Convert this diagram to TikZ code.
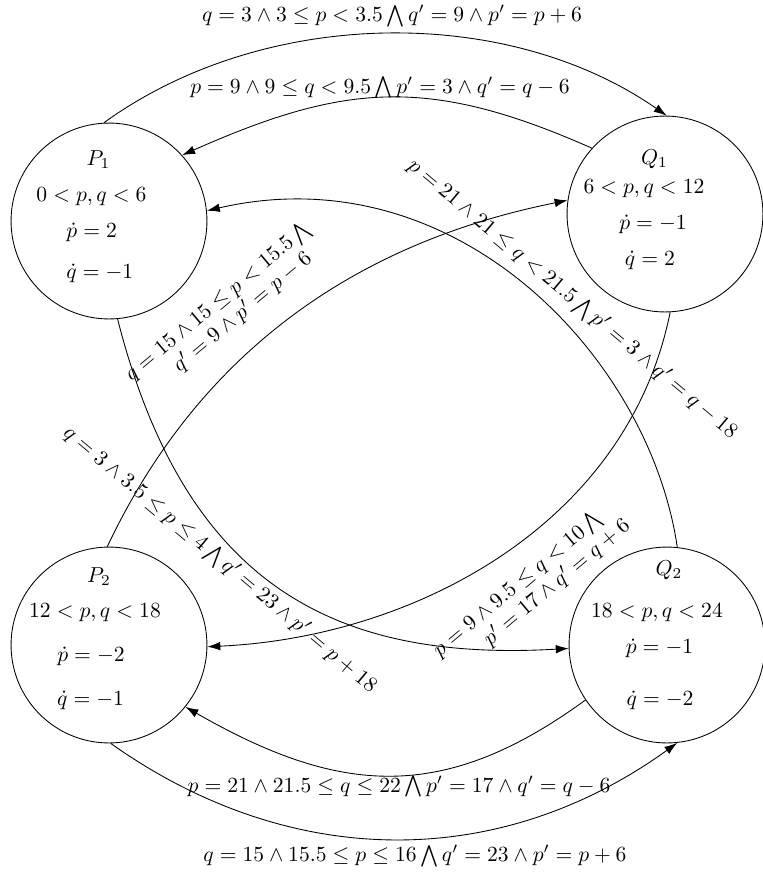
\documentclass[tikz,border=0pt]{standalone}
\usetikzlibrary{arrows.meta}
\begin{document}
\begin{tikzpicture}[x=0.463pt,y=-0.463pt,line width=0.4pt,
  state/.style={circle,draw,minimum size=90.7pt,inner sep=0pt},
  txt/.style={anchor=base,inner sep=0pt},
  lab/.style={inner sep=0pt},
  tr/.style={-{Latex[length=6pt,width=4pt]}}]
\useasboundingbox (0,0) rectangle (762,874);
% states
\node[state] (P1) at (109,221) {};
\node[state] (Q1) at (665,214) {};
\node[state] (P2) at (109,645) {};
\node[state] (Q2) at (667,645) {};
% state texts
\node[txt] (P1a) at (98.5,165) {$P_1$};
\node[txt] (P1b) at (91.5,201) {$0<p,q<6$};
\node[txt,anchor=base west] (P1c) at (66,237) {$\dot p=2$};
\node[txt,anchor=base west] (P1d) at (66,278) {$\dot q=-1$};
\node[txt] (Q1a) at (654.5,164) {$Q_1$};
\node[txt] (Q1b) at (644,193) {$6<p,q<12$};
\node[txt] (Q1c) at (653,229) {$\dot p=-1$};
\node[txt] (Q1d) at (650,265) {$\dot q=2$};
\node[txt] (P2a) at (99,582) {$P_2$};
\node[txt] (P2b) at (95,617) {$12<p,q<18$};
\node[txt] (P2c) at (91,661) {$\dot p=-2$};
\node[txt] (P2d) at (90.5,705) {$\dot q=-1$};
\node[txt] (Q2a) at (669,575) {$Q_2$};
\node[txt] (Q2b) at (657,617) {$18<p,q<24$};
\node[txt] (Q2c) at (659.5,653) {$\dot p=-1$};
\node[txt] (Q2d) at (660,705) {$\dot q=-2$};
% transitions
\draw[tr] (P1.93) .. controls (264,7) and (506,4) .. (Q1.89);
\draw[tr] (Q1.138) .. controls (429,76) and (345,83) .. (P1.42);
\draw[tr] (P1.-85) .. controls (185,584) and (333,662) .. (Q2.182);
\draw[tr] (P2.91) .. controls (205,340) and (370,240) .. (Q1.172);
\draw[tr] (Q2.84) .. controls (649.3,357) and (456,153.3) .. (P1.6);
\draw[tr] (Q1.-87) .. controls (627.5,524.7) and (413.8,637.4) .. (P2.-1);
\draw[tr] (Q2.-146) .. controls (443.6,803.4) and (339.8,795.5) .. (P2.-39);
\draw[tr] (P2.-89) .. controls (289,870) and (498,872) .. (Q2.-84);
% guards
\node[lab,anchor=base] (Ltop) at (392,21.5) {$q=3\wedge 3\leq p<3.5\bigwedge q'=9\wedge p'=p+6$};
\node[lab,anchor=base] (Lsec) at (380,93) {$p=9\wedge 9\leq q<9.5\bigwedge p'=3\wedge q'=q-6$};
\node[lab,anchor=base] (Lbi) at (399,792) {$p=21\wedge 21.5\leq q\leq 22\bigwedge p'=17\wedge q'=q-6$};
\node[lab,anchor=base] (Lbo) at (415,861.7) {$q=15\wedge 15.5\leq p\leq 16\bigwedge q'=23\wedge p'=p+6$};
\node[lab,rotate=-40] (Lc) at (572.5,299) {$p=21\wedge 21\leq q<21.5\bigwedge p'=3\wedge q'=q-18$};
\node[lab,rotate=-40] (La) at (220,559.8) {$q=3\wedge 3.5\leq p\leq 4\bigwedge q'=23\wedge p'=p+18$};
\node[lab,rotate=40,align=left] (Lb) at (225.3,311) {$q=15\wedge 15\leq p<15.5\bigwedge$\\[-1pt]\hspace*{19.8pt}$q'=9\wedge p'=p-6$};
\node[lab,rotate=40,align=left] (Ld) at (531.6,588) {$p=9\wedge 9.5\leq q<10\bigwedge$\\[-1pt]\hspace*{21.2pt}$p'=17\wedge q'=q+6$};
\end{tikzpicture}
\end{document}
